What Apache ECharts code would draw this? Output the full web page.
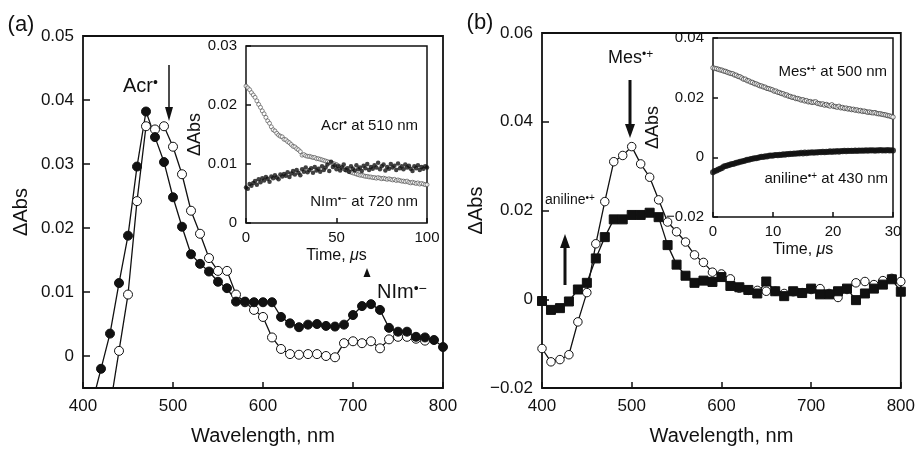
<!DOCTYPE html>
<html>
<head>
<meta charset="utf-8">
<script src="https://cdn.jsdelivr.net/npm/echarts@6/dist/echarts.min.js"></script>
<style>
html, body { margin: 0; padding: 0; background: #fff; }
#chart { width: 918px; height: 451px; }
</style>
</head>
<body>
<div id="chart"></div>
<script>
// ---- panel (a): spectra ----
var wlAcrFilled = [410, 420, 430, 440, 450, 460, 470, 480, 490, 500, 510, 520, 530, 540, 550, 560, 570, 580, 590, 600,
    610, 620, 630, 640, 650, 660, 670, 680, 690, 700, 710, 720, 730, 740, 750, 760, 770, 780, 790, 800];
var absAcrFilled = [-0.0075, -0.0020, 0.0035, 0.0114, 0.0188, 0.0296, 0.0382, 0.0342, 0.0303, 0.0248, 0.0202, 0.0159,
    0.0144, 0.0132, 0.0116, 0.0106, 0.0085, 0.0085, 0.0084, 0.0084, 0.0084, 0.0061, 0.0051, 0.0045, 0.0049, 0.0050,
    0.0047, 0.0046, 0.0049, 0.0064, 0.0078, 0.0081, 0.0072, 0.0044, 0.0038, 0.0038, 0.0030, 0.0029, 0.0025, 0.0014];
var wlAcrOpen = [430, 440, 450, 460, 470, 480, 490, 500, 510, 520, 530, 540, 550, 560, 570, 580, 590, 600, 610, 620,
    630, 640, 650, 660, 670, 680, 690, 700, 710, 720, 730, 740, 750, 760, 770, 780];
var absAcrOpen = [-0.0080, 0.0008, 0.0096, 0.0242, 0.0359, 0.0354, 0.0359, 0.0327, 0.0284, 0.0227, 0.0191, 0.0153,
    0.0133, 0.0133, 0.0096, 0.0084, 0.0072, 0.0061, 0.0029, 0.0011, 0.0003, 0.0002, 0.0003, 0.0003, 0.0000, -0.0002,
    0.0020, 0.0023, 0.0020, 0.0023, 0.0012, 0.0026, 0.0030, 0.0030, 0.0027, 0.0024];
var yTicksA = [0, 0.01, 0.02, 0.03, 0.04, 0.05];

// ---- panel (a) inset: time profiles, one point per microsecond ----
var stepInsetA = 1;
var acr510 = [0.0232, 0.0229, 0.0226, 0.0221, 0.0217, 0.0213, 0.0207, 0.0201, 0.0196, 0.0190, 0.0185, 0.0179, 0.0173,
    0.0169, 0.0163, 0.0158, 0.0156, 0.0152, 0.0149, 0.0147, 0.0146, 0.0142, 0.0141, 0.0138, 0.0136, 0.0133, 0.0130,
    0.0129, 0.0126, 0.0124, 0.0121, 0.0115, 0.0116, 0.0114, 0.0113, 0.0113, 0.0112, 0.0111, 0.0111, 0.0109, 0.0109,
    0.0108, 0.0107, 0.0106, 0.0105, 0.0104, 0.0103, 0.0102, 0.0101, 0.0100, 0.0099, 0.0097, 0.0095, 0.0094, 0.0092,
    0.0090, 0.0089, 0.0087, 0.0086, 0.0085, 0.0084, 0.0083, 0.0082, 0.0081, 0.0081, 0.0080, 0.0079, 0.0079, 0.0078,
    0.0078, 0.0077, 0.0077, 0.0076, 0.0077, 0.0076, 0.0075, 0.0076, 0.0075, 0.0074, 0.0075, 0.0074, 0.0073, 0.0074,
    0.0072, 0.0073, 0.0072, 0.0071, 0.0071, 0.0070, 0.0071, 0.0069, 0.0068, 0.0069, 0.0068, 0.0067, 0.0068, 0.0066,
    0.0067, 0.0066, 0.0065, 0.0065];
var nim720 = [0.0060, 0.0058, 0.0066, 0.0063, 0.0068, 0.0071, 0.0065, 0.0074, 0.0069, 0.0076, 0.0072, 0.0078, 0.0075,
    0.0070, 0.0079, 0.0076, 0.0081, 0.0077, 0.0074, 0.0082, 0.0079, 0.0083, 0.0080, 0.0086, 0.0078, 0.0084, 0.0088,
    0.0082, 0.0090, 0.0085, 0.0081, 0.0091, 0.0087, 0.0094, 0.0086, 0.0090, 0.0093, 0.0085, 0.0095, 0.0089, 0.0092,
    0.0087, 0.0096, 0.0090, 0.0094, 0.0099, 0.0088, 0.0104, 0.0095, 0.0098, 0.0091, 0.0096, 0.0089, 0.0094, 0.0099,
    0.0090, 0.0093, 0.0087, 0.0096, 0.0092, 0.0089, 0.0098, 0.0091, 0.0094, 0.0088, 0.0097, 0.0093, 0.0100, 0.0090,
    0.0095, 0.0092, 0.0098, 0.0094, 0.0102, 0.0091, 0.0096, 0.0099, 0.0089, 0.0095, 0.0092, 0.0100, 0.0094, 0.0097,
    0.0090, 0.0101, 0.0093, 0.0096, 0.0091, 0.0099, 0.0094, 0.0097, 0.0092, 0.0088, 0.0096, 0.0093, 0.0098, 0.0090,
    0.0095, 0.0092, 0.0096, 0.0094];

// ---- panel (b): spectra ----
var wlB = [400, 410, 420, 430, 440, 450, 460, 470, 480, 490, 500, 510, 520, 530, 540, 550, 560, 570, 580, 590, 600,
    610, 620, 630, 640, 650, 660, 670, 680, 690, 700, 710, 720, 730, 740, 750, 760, 770, 780, 790, 800];
var absMesOpen = [-0.0111, -0.0141, -0.0136, -0.0125, -0.0051, 0.0015, 0.0125, 0.0220, 0.0310, 0.0324, 0.0344,
    0.0305, 0.0275, 0.0224, 0.0174, 0.0152, 0.0129, 0.0100, 0.0083, 0.0061, 0.0057, 0.0046, 0.0025, 0.0020, 0.0020,
    0.0018, 0.0018, 0.0013, 0.0017, 0.0015, 0.0022, 0.0024, 0.0013, 0.0004, 0.0022, 0.0037, 0.0040, 0.0033, 0.0042,
    0.0047, 0.0040];
var absAnilSquare = [-0.0004, -0.0024, -0.0020, -0.0005, 0.0022, 0.0037, 0.0092, 0.0140, 0.0180, 0.0180, 0.0190,
    0.0190, 0.0195, 0.0185, 0.0122, 0.0078, 0.0053, 0.0037, 0.0042, 0.0039, 0.0050, 0.0030, 0.0027, 0.0021, 0.0013,
    0.0040, 0.0018, 0.0007, 0.0018, 0.0014, 0.0024, 0.0011, 0.0011, 0.0018, 0.0024, -0.0002, 0.0013, 0.0024, 0.0033,
    0.0045, 0.0017];

// ---- panel (b) inset: time profiles, one point every 0.3 microseconds ----
var stepInsetB = 0.3;
var mes500 = [0.0300, 0.0298, 0.0297, 0.0295, 0.0293, 0.0292, 0.0289, 0.0288, 0.0285, 0.0283, 0.0281, 0.0280, 0.0276,
    0.0275, 0.0271, 0.0270, 0.0266, 0.0262, 0.0262, 0.0257, 0.0256, 0.0252, 0.0251, 0.0247, 0.0246, 0.0243, 0.0240,
    0.0239, 0.0236, 0.0235, 0.0231, 0.0230, 0.0228, 0.0226, 0.0222, 0.0222, 0.0218, 0.0217, 0.0214, 0.0213, 0.0209,
    0.0209, 0.0205, 0.0204, 0.0201, 0.0201, 0.0197, 0.0197, 0.0195, 0.0192, 0.0193, 0.0189, 0.0190, 0.0186, 0.0187,
    0.0184, 0.0185, 0.0186, 0.0181, 0.0180, 0.0178, 0.0179, 0.0175, 0.0177, 0.0174, 0.0172, 0.0176, 0.0171, 0.0170,
    0.0168, 0.0171, 0.0166, 0.0167, 0.0164, 0.0165, 0.0162, 0.0163, 0.0160, 0.0161, 0.0158, 0.0159, 0.0156, 0.0157,
    0.0154, 0.0155, 0.0153, 0.0151, 0.0152, 0.0150, 0.0149, 0.0150, 0.0147, 0.0146, 0.0146, 0.0144, 0.0143, 0.0142,
    0.0140, 0.0139, 0.0137, 0.0135];
var anil430 = [-0.0050, -0.0046, -0.0044, -0.0041, -0.0038, -0.0036, -0.0031, -0.0029, -0.0027, -0.0026, -0.0023,
    -0.0022, -0.0021, -0.0018, -0.0017, -0.0015, -0.0014, -0.0012, -0.0011, -0.0008, -0.0008, -0.0006, -0.0005,
    -0.0003, -0.0003, -0.0001, 0.0000, 0.0002, 0.0001, 0.0004, 0.0003, 0.0005, 0.0006, 0.0005, 0.0007, 0.0008, 0.0007,
    0.0009, 0.0008, 0.0010, 0.0009, 0.0011, 0.0010, 0.0012, 0.0011, 0.0013, 0.0012, 0.0014, 0.0013, 0.0015, 0.0013,
    0.0016, 0.0014, 0.0016, 0.0015, 0.0017, 0.0015, 0.0017, 0.0016, 0.0018, 0.0017, 0.0019, 0.0017, 0.0019, 0.0018,
    0.0020, 0.0018, 0.0020, 0.0019, 0.0021, 0.0019, 0.0021, 0.0020, 0.0022, 0.0020, 0.0022, 0.0021, 0.0022, 0.0021,
    0.0023, 0.0021, 0.0023, 0.0022, 0.0023, 0.0022, 0.0024, 0.0022, 0.0024, 0.0023, 0.0024, 0.0022, 0.0024, 0.0023,
    0.0025, 0.0023, 0.0024, 0.0023, 0.0025, 0.0023, 0.0024, 0.0023];

var FONT = '"Liberation Sans", Arial, sans-serif';
var INK = '#111';

function pairs(xs, ys) {
    return ys.map(function (v, i) { return [xs[i], v]; });
}
function timePairs(step, ys) {
    return ys.map(function (v, i) { return [i * step, v]; });
}
function fmt(v) {
    if (Math.abs(v) < 1e-9) return '0';
    return v.toFixed(2).replace('-', '\u2212');
}

function xAxisCfg(gi, min, max, interval, name, labelSize, nameSize, nameGap, tickLen, labelMargin) {
    return {
        gridIndex: gi, type: 'value', min: min, max: max, interval: interval,
        name: name, nameLocation: 'middle', nameGap: nameGap,
        nameTextStyle: {
            fontSize: nameSize, color: INK, fontFamily: FONT,
            rich: { i: { fontSize: nameSize, fontStyle: 'italic', color: INK, fontFamily: FONT } }
        },
        axisLine: { show: false, onZero: false },
        axisTick: { inside: true, length: tickLen, lineStyle: { color: INK, width: 1.5 } },
        axisLabel: { fontSize: labelSize, color: INK, fontFamily: FONT, margin: labelMargin },
        splitLine: { show: false }
    };
}
function yAxisCfg(gi, min, max, interval, labelSize, nameSize, nameGap, tickLen, customTicks) {
    var ax = {
        gridIndex: gi, type: 'value', min: min, max: max,
        name: '\u0394Abs', nameLocation: 'middle', nameGap: nameGap,
        nameTextStyle: { fontSize: nameSize, color: INK, fontFamily: FONT },
        axisLine: { show: false, onZero: false },
        axisTick: { inside: true, length: tickLen, lineStyle: { color: INK, width: 1.5 } },
        axisLabel: { fontSize: labelSize, color: INK, fontFamily: FONT, margin: 9, formatter: fmt },
        splitLine: { show: false }
    };
    if (customTicks) {
        ax.axisTick.customValues = customTicks;
        ax.axisLabel.customValues = customTicks;
    } else {
        ax.interval = interval;
    }
    return ax;
}

function supText(x, y, base, sup, size, align, tail) {
    var rich = {
        b: { fontSize: size, fontFamily: FONT, fill: INK, color: INK },
        s: { fontSize: Math.round(size * 0.68), fontFamily: FONT, fill: INK, color: INK, verticalAlign: 'top' }
    };
    var txt = '{b|' + base + '}{s|' + sup + '}' + (tail ? '{b|' + tail + '}' : '');
    return {
        type: 'text', x: x, y: y, z: 100,
        style: { text: txt, rich: rich, align: align, verticalAlign: 'middle', fill: INK }
    };
}
function arrow(x, y1, y2, w, headW, headH) {
    var dir = y2 > y1 ? 1 : -1;
    return [
        { type: 'line', z: 100, shape: { x1: x, y1: y1, x2: x, y2: y2 - dir * headH * 0.8 },
          style: { stroke: INK, lineWidth: w } },
        { type: 'polygon', z: 100,
          shape: { points: [[x - headW / 2, y2 - dir * headH], [x + headW / 2, y2 - dir * headH], [x, y2]] },
          style: { fill: INK } }
    ];
}

var circleOpen = { color: '#fff', borderColor: INK, borderWidth: 1 };
var circleFull = { color: INK, borderColor: INK, borderWidth: 1 };

var option = {
    animation: false,
    backgroundColor: '#fff',
    grid: [
        { left: 83, top: 36, width: 360, height: 357, show: true, borderColor: INK, borderWidth: 1.8, backgroundColor: 'transparent' },
        { left: 246, top: 46, width: 181, height: 177, show: true, borderColor: INK, borderWidth: 1.5, backgroundColor: '#fff' },
        { left: 542, top: 33, width: 361, height: 360, show: true, borderColor: INK, borderWidth: 1.8, backgroundColor: 'transparent' },
        { left: 713, top: 38, width: 180, height: 179, show: true, borderColor: INK, borderWidth: 1.5, backgroundColor: '#fff' }
    ],
    xAxis: [
        xAxisCfg(0, 400, 800, 100, 'Wavelength, nm', 17, 20, 38, 6, 10),
        xAxisCfg(1, 0, 100, 50, 'Time, {i|\u03bc}s', 15, 16, 25, 5, 7),
        xAxisCfg(2, 400, 800, 100, 'Wavelength, nm', 17, 20, 38, 6, 10),
        xAxisCfg(3, 0, 30, 10, 'Time, {i|\u03bc}s', 15, 16, 25, 5, 7)
    ],
    yAxis: [
        yAxisCfg(0, -0.005, 0.05, null, 17, 20, 52, 7, yTicksA),
        yAxisCfg(1, 0, 0.03, 0.01, 15, 18, 29, 5),
        yAxisCfg(2, -0.02, 0.06, 0.02, 17, 20, 52, 7),
        yAxisCfg(3, -0.02, 0.04, 0.02, 15, 18, 31, 5)
    ],
    series: [
        { type: 'line', xAxisIndex: 0, yAxisIndex: 0, data: pairs(wlAcrOpen, absAcrOpen),
          symbol: 'circle', symbolSize: 9, lineStyle: { color: INK, width: 1.3 }, itemStyle: circleOpen, clip: true },
        { type: 'line', xAxisIndex: 0, yAxisIndex: 0, data: pairs(wlAcrFilled, absAcrFilled),
          symbol: 'circle', symbolSize: 9, lineStyle: { color: INK, width: 1.3 }, itemStyle: circleFull, clip: true },
        { type: 'scatter', xAxisIndex: 1, yAxisIndex: 1, data: timePairs(stepInsetA, acr510),
          symbol: 'circle', symbolSize: 4, itemStyle: { color: '#fff', borderColor: '#444', borderWidth: 0.8 } },
        { type: 'scatter', xAxisIndex: 1, yAxisIndex: 1, data: timePairs(stepInsetA, nim720),
          symbol: 'circle', symbolSize: 4.5, itemStyle: { color: INK } },
        { type: 'line', xAxisIndex: 2, yAxisIndex: 2, data: pairs(wlB, absMesOpen),
          symbol: 'circle', symbolSize: 8.5, lineStyle: { color: INK, width: 1.3 }, itemStyle: circleOpen, clip: true },
        { type: 'line', xAxisIndex: 2, yAxisIndex: 2, data: pairs(wlB, absAnilSquare),
          symbol: 'rect', symbolSize: 9, lineStyle: { color: INK, width: 1.3 }, itemStyle: circleFull, clip: true },
        { type: 'scatter', xAxisIndex: 3, yAxisIndex: 3, data: timePairs(stepInsetB, mes500),
          symbol: 'circle', symbolSize: 4.5, itemStyle: { color: '#fff', borderColor: '#333', borderWidth: 0.9 } },
        { type: 'scatter', xAxisIndex: 3, yAxisIndex: 3, data: timePairs(stepInsetB, anil430),
          symbol: 'circle', symbolSize: 6, itemStyle: { color: INK } }
    ],
    graphic: [
        { type: 'text', x: 21, y: 25, z: 100, style: { text: '(a)', font: '22px ' + FONT, fill: INK, align: 'center', verticalAlign: 'middle' } },
        { type: 'text', x: 480, y: 23, z: 100, style: { text: '(b)', font: '22px ' + FONT, fill: INK, align: 'center', verticalAlign: 'middle' } },
        supText(123, 86, 'Acr', '\u2022', 20, 'left'),
        supText(377, 292, 'NIm', '\u2022\u2212', 20, 'left'),
        supText(608, 58, 'Mes', '\u2022+', 18, 'left'),
        supText(545, 200, 'aniline', '\u2022+', 14, 'left'),
        supText(418, 126, 'Acr', '\u2022', 15, 'right', ' at 510 nm'),
        supText(418, 202, 'NIm', '\u2022\u2212', 15, 'right', ' at 720 nm'),
        supText(887, 72, 'Mes', '\u2022+', 15, 'right', ' at 500 nm'),
        supText(888, 179, 'aniline', '\u2022+', 15, 'right', ' at 430 nm'),
        { type: 'polygon', z: 100, shape: { points: [[367, 268], [363.5, 277], [370.5, 277]] }, style: { fill: INK } }
    ].concat(arrow(169, 65, 121, 1.5, 8, 14))
     .concat(arrow(630, 80, 138, 3, 10, 14))
     .concat(arrow(565, 285, 234, 3, 10, 14))
};

var myChart = echarts.init(document.getElementById('chart'));
myChart.setOption(option);
</script>
</body>
</html>
